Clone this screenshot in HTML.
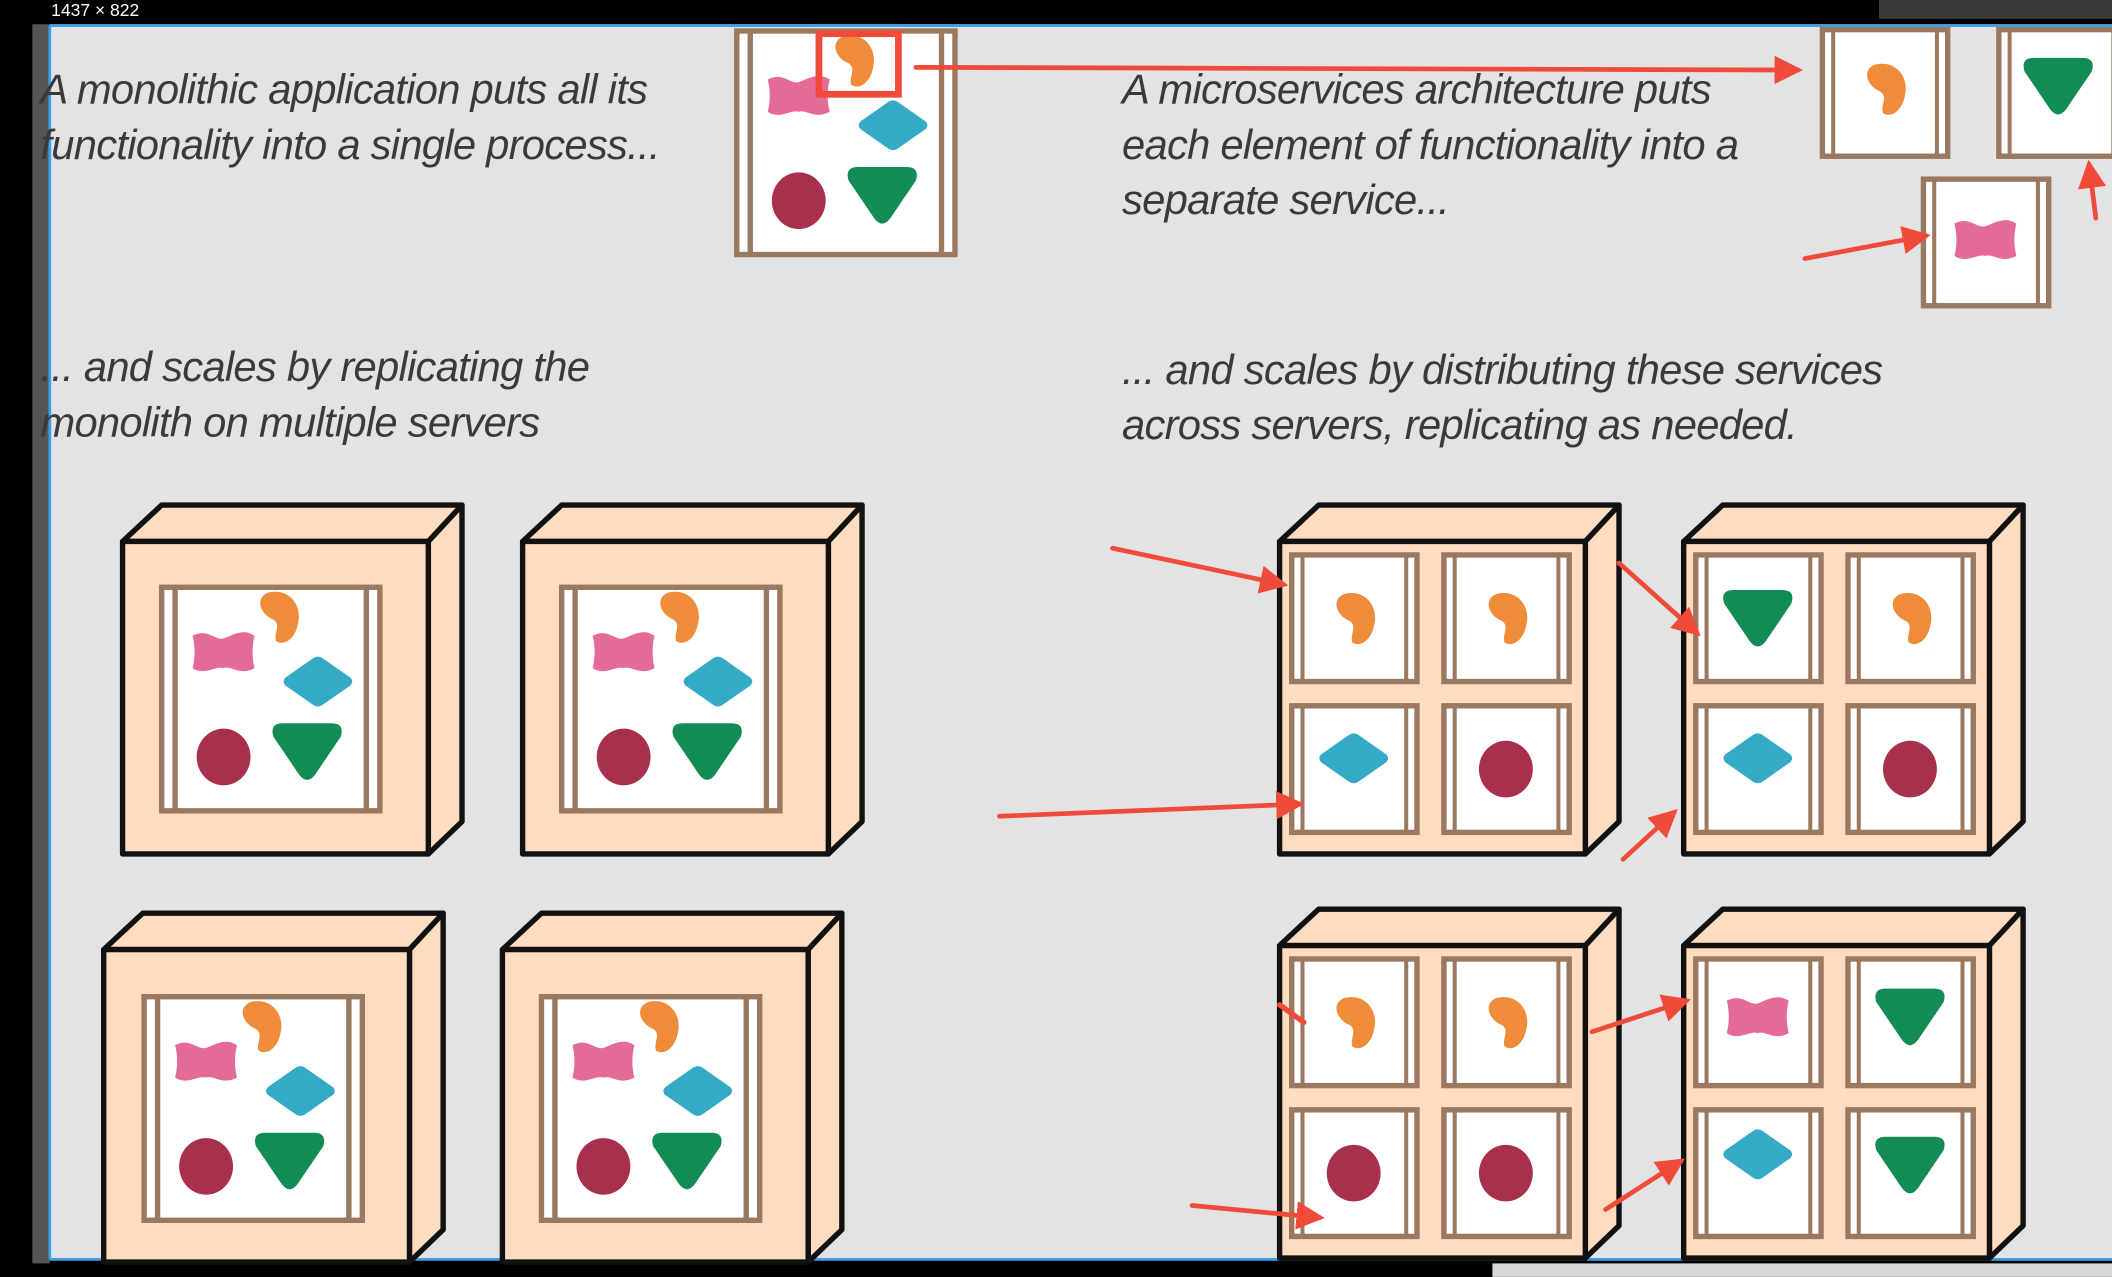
<!DOCTYPE html>
<html><head><meta charset="utf-8"><style>
html,body{margin:0;padding:0;background:#000;}
svg{display:block;}
text{font-family:"Liberation Sans",sans-serif;}
.t{font-style:italic;font-size:31px;fill:#3a3a3a;letter-spacing:-0.55px;}
</style></head><body>
<svg width="2112" height="1277" viewBox="0 0 1568 948.1" preserveAspectRatio="none" xmlns="http://www.w3.org/2000/svg">
<defs>
<path id="or" d="M-8,-18 C8,-22 18,-8 14,6 C12,16 4,22 -2,18 C-4,12 2,6 -4,2 C-14,-2 -18,-14 -8,-18Z" fill="#ee8c3a"/>
<path id="pk" d="M-23,-12 C-12,-18 -6,-8 0,-10 C6,-12 14,-18 23,-12 C21,-4 21,4 23,12 C12,18 6,10 0,12 C-6,10 -14,18 -23,12 C-21,4 -21,-4 -23,-12Z" fill="#e46a9a"/>
<path id="tl" d="M-24,-3 L-4,-17 Q0,-20 4,-17 L24,-3 Q27,0 24,3 L4,17 Q0,20 -4,17 L-24,3 Q-27,0 -24,-3Z" fill="#35aac6"/>
<ellipse id="rd" cx="0" cy="0" rx="20" ry="21" fill="#a8304c"/>
<path id="gr" d="M-18,-21 L18,-21 Q28,-21 25,-11 L6,17 Q0,25 -6,17 L-25,-11 Q-28,-21 -18,-21Z" fill="#138c54"/>
<g id="mono">
<rect x="2" y="2" width="162" height="166" fill="#fff" stroke="#9b7860" stroke-width="4"/>
<line x1="12" y1="2" x2="12" y2="168" stroke="#9b7860" stroke-width="4"/>
<line x1="154" y1="2" x2="154" y2="168" stroke="#9b7860" stroke-width="4"/>
<use href="#or" x="89" y="24"/><use href="#pk" x="48" y="50"/><use href="#tl" x="118" y="72"/>
<use href="#rd" x="48" y="128"/><use href="#gr" x="110" y="124"/>
</g>
<g id="sc">
<rect x="2" y="2" width="93" height="94" fill="#fff" stroke="#9b7860" stroke-width="4"/>
<line x1="10" y1="2" x2="10" y2="96" stroke="#9b7860" stroke-width="3"/>
<line x1="87" y1="2" x2="87" y2="96" stroke="#9b7860" stroke-width="3"/>
</g>
<g id="boxL" stroke="#111" stroke-width="4" stroke-linejoin="round" fill="#fddcbf">
<polygon points="0,27 29,0 252,0 227,27"/>
<polygon points="227,27 252,0 252,235 227,259"/>
<rect x="0" y="27" width="227" height="232"/>
</g>
<marker id="ah" markerWidth="6" markerHeight="6" refX="5" refY="3" orient="auto" markerUnits="strokeWidth"><path d="M0,0 L6,3 L0,6 Z" fill="#f04a3a"/></marker>
</defs>
<rect x="0" y="0" width="1568" height="948.1" fill="#000"/>
<rect x="24" y="18" width="13" height="920" fill="#555"/>
<rect x="37" y="18" width="1531" height="917" fill="#e3e3e3"/>
<line x1="37" y1="19" x2="1568" y2="19" stroke="#3aa0e8" stroke-width="2"/>
<line x1="37" y1="19" x2="37" y2="935" stroke="#3aa0e8" stroke-width="2"/>
<line x1="37" y1="935" x2="1568" y2="935" stroke="#3aa0e8" stroke-width="2"/>
<rect x="1108" y="938" width="460" height="10" fill="#d8d8d8"/>
<rect x="1395" y="0" width="173" height="14" fill="#3a3a3a"/>
<text x="38" y="12" font-size="13" fill="#fff">1437 × 822</text>

<text class="t" x="30" y="77">A monolithic application puts all its</text>
<text class="t" x="30" y="118">functionality into a single process...</text>
<text class="t" x="833" y="77">A microservices architecture puts</text>
<text class="t" x="833" y="118">each element of functionality into a</text>
<text class="t" x="833" y="159">separate service...</text>
<text class="t" x="30" y="283">... and scales by replicating the</text>
<text class="t" x="30" y="324">monolith on multiple servers</text>
<text class="t" x="833" y="285">... and scales by distributing these services</text>
<text class="t" x="833" y="326">across servers, replicating as needed.</text>

<use href="#mono" x="545" y="21"/>
<rect x="608" y="25" width="59" height="45" fill="none" stroke="#f04a3a" stroke-width="5"/>

<use href="#sc" x="1351" y="20"/><use href="#or" x="1400" y="66"/>
<use href="#sc" x="1482" y="20"/><use href="#gr" x="1528" y="64"/>
<use href="#sc" x="1426" y="131"/><use href="#pk" x="1474" y="178"/>

<use href="#boxL" x="91" y="375"/><use href="#mono" x="118" y="434"/>
<use href="#boxL" x="388" y="375"/><use href="#mono" x="415" y="434"/>
<use href="#boxL" x="77" y="678"/><use href="#mono" x="105" y="738"/>
<use href="#boxL" x="373" y="678"/><use href="#mono" x="400" y="738"/>

<use href="#boxL" x="950" y="375"/>
<use href="#sc" x="957" y="410"/><use href="#sc" x="1070" y="410"/><use href="#sc" x="957" y="522"/><use href="#sc" x="1070" y="522"/>
<use href="#or" x="1006" y="459"/><use href="#or" x="1119" y="459"/><use href="#tl" x="1005" y="563"/><use href="#rd" x="1118" y="571"/>

<use href="#boxL" x="1250" y="375"/>
<use href="#sc" x="1257" y="410"/><use href="#sc" x="1370" y="410"/><use href="#sc" x="1257" y="522"/><use href="#sc" x="1370" y="522"/>
<use href="#gr" x="1305" y="459"/><use href="#or" x="1419" y="459"/><use href="#tl" x="1305" y="563"/><use href="#rd" x="1418" y="571"/>

<use href="#boxL" x="950" y="675"/>
<use href="#sc" x="957" y="710"/><use href="#sc" x="1070" y="710"/><use href="#sc" x="957" y="822"/><use href="#sc" x="1070" y="822"/>
<use href="#or" x="1006" y="759"/><use href="#or" x="1119" y="759"/><use href="#rd" x="1005" y="871"/><use href="#rd" x="1118" y="871"/>

<use href="#boxL" x="1250" y="675"/>
<use href="#sc" x="1257" y="710"/><use href="#sc" x="1370" y="710"/><use href="#sc" x="1257" y="822"/><use href="#sc" x="1370" y="822"/>
<use href="#pk" x="1305" y="755"/><use href="#gr" x="1418" y="755"/><use href="#tl" x="1305" y="857"/><use href="#gr" x="1418" y="865"/>

<g stroke="#f04a3a" stroke-width="3.5" stroke-linecap="round" marker-end="url(#ah)">
<line x1="680" y1="50" x2="1335" y2="52"/>
<line x1="1340" y1="192" x2="1430" y2="175"/>
<line x1="1556" y1="162" x2="1551" y2="122"/>
<line x1="826" y1="407" x2="953" y2="434"/>
<line x1="742" y1="606" x2="965" y2="597"/>
<line x1="1202" y1="418" x2="1260" y2="470"/>
<line x1="1205" y1="638" x2="1243" y2="603"/>
<line x1="1182" y1="766" x2="1252" y2="743"/>
<line x1="885" y1="895" x2="980" y2="904"/>
<line x1="1192" y1="898" x2="1248" y2="862"/>
</g>
<line x1="950" y1="746" x2="968" y2="759" stroke="#f04a3a" stroke-width="4" stroke-linecap="round"/>
</svg>
</body></html>
